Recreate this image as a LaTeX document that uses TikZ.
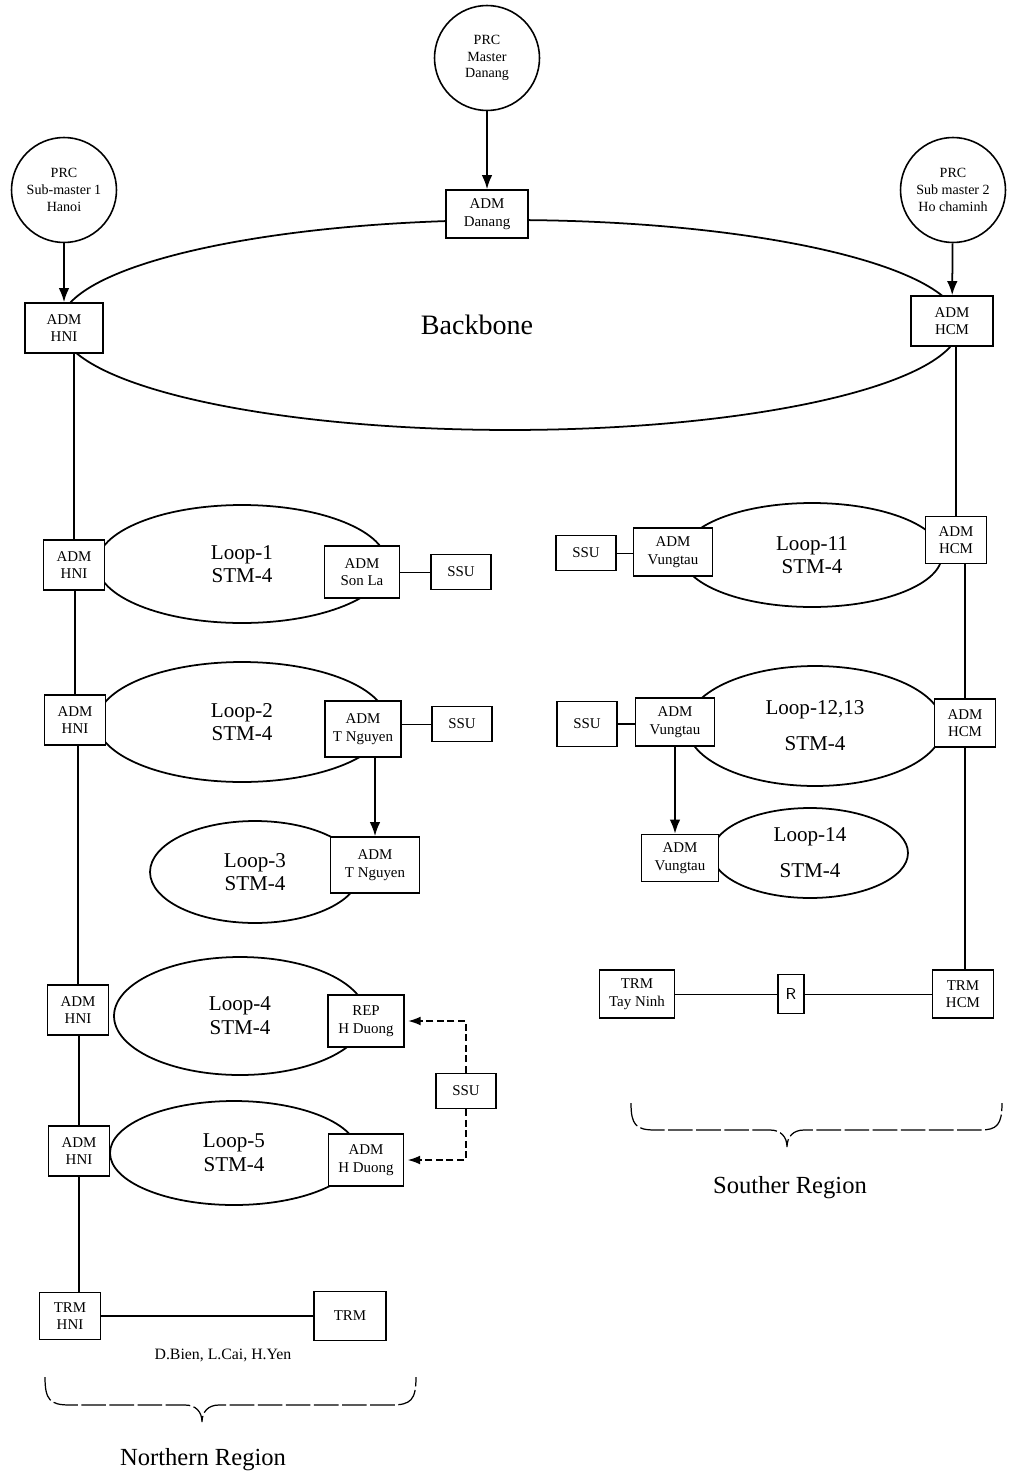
\documentclass[tikz,border=0pt]{standalone}
\usepackage{fontspec}
\setmainfont{Liberation Serif}
\usetikzlibrary{arrows.meta, shapes.geometric}

\begin{document}
\begin{tikzpicture}[
  x=0.02cm, y=-0.02cm, >={Latex[length=8pt,width=6pt]},
  box/.style={draw, fill=white, line width=0.9pt, align=center, inner sep=1pt,
    minimum width=1.55cm, minimum height=1cm, font=\fontsize{8.5}{10}\selectfont},
  nbox/.style={box, minimum width=1.22cm},
  ssu/.style={box, minimum width=1.2cm, minimum height=0.7cm},
  prc/.style={circle, draw, line width=0.9pt, minimum size=2.1cm, inner sep=0pt,
    align=center, font=\fontsize{8}{9.5}\selectfont},
  loop/.style={ellipse, draw, line width=1pt, align=center, inner sep=0pt,
    font=\fontsize{12}{13.5}\selectfont},
  line/.style={line width=1pt},
  arr/.style={->, line width=1pt},
  sync/.style={->, line width=0.7pt, dash pattern=on 4pt off 2pt, shorten >=2pt,
    >={Latex[length=7pt,width=5pt]}},
  brace/.style={line width=0.7pt, dash pattern=on 14pt off 2pt},
  region/.style={font=\fontsize{14}{16}\selectfont},
]
  \useasboundingbox (0,0) rectangle (1009,1477);

  % Rings
  \node[loop, minimum width=18cm, minimum height=4.2cm] (backbone) at (510,325) {};
  \node[font=\fontsize{16}{18}\selectfont] (bbLabel) at (477,325) {Backbone};
  \node[loop, minimum width=5.8cm, minimum height=2.36cm] (loop1) at (242,564) {Loop-1\\STM-4};
  \node[loop, minimum width=5.8cm, minimum height=2.4cm] (loop2) at (242,722) {Loop-2\\STM-4};
  \node[loop, minimum width=4.2cm, minimum height=2.04cm] (loop3) at (255,872) {Loop-3\\STM-4};
  \node[loop, minimum width=5.04cm, minimum height=2.36cm] (loop4) at (240,1016) {Loop-4\\STM-4};
  \node[loop, minimum width=4.96cm, minimum height=2.08cm] (loop5) at (234,1153) {Loop-5\\STM-4};
  \node[loop, minimum width=5.2cm, minimum height=2.08cm] (loop11) at (812,555) {Loop-11\\STM-4};
  \node[loop, minimum width=5.12cm, minimum height=2.4cm] (loop12) at (815,726) {Loop-12,13\\[7pt]STM-4};
  \node[loop, minimum width=3.92cm, minimum height=1.8cm] (loop14) at (810,853) {Loop-14\\[7pt]STM-4};

  % Clock masters
  \node[prc] (master) at (487,58) {PRC\\Master\\Danang};
  \node[prc] (sub1) at (64,190) {PRC\\Sub-master 1\\Hanoi};
  \node[prc] (sub2) at (953,190) {PRC\\Sub master 2\\Ho chaminh};

  % Backbone nodes
  \node[box, minimum width=1.64cm, minimum height=0.96cm] (adDanang) at (487,214) {ADM\\Danang};
  \node[box] (hniTop) at (64,328) {ADM\\HNI};
  \node[box, minimum width=1.64cm] (hcmTop) at (952,321) {ADM\\HCM};

  % Northern region
  \node[nbox] (hni1) at (74,565) {ADM\\HNI};
  \node[nbox] (hni2) at (75,720) {ADM\\HNI};
  \node[nbox] (hni4) at (78,1010) {ADM\\HNI};
  \node[nbox] (hni5) at (79,1151) {ADM\\HNI};
  \node[nbox, minimum height=0.94cm] (trmHni) at (70,1316) {TRM\\HNI};
  \node[box, minimum width=1.5cm, minimum height=1.04cm] (sonla) at (362,572) {ADM\\Son La};
  \node[ssu] (ssu1) at (461,572) {SSU};
  \node[box, minimum width=1.52cm, minimum height=1.12cm] (tng2) at (363,729) {ADM\\T Nguyen};
  \node[ssu] (ssu2) at (462,724) {SSU};
  \node[box, minimum width=1.78cm, minimum height=1.12cm] (tng3) at (375,865) {ADM\\T Nguyen};
  \node[box, minimum width=1.52cm, minimum height=1.04cm] (rep) at (366,1021) {REP\\H Duong};
  \node[box, minimum width=1.5cm, minimum height=1.04cm] (hd) at (366,1160) {ADM\\H Duong};
  \node[ssu] (ssu3) at (466,1091) {SSU};
  \node[box, minimum width=1.44cm, minimum height=0.98cm] (trmN) at (350,1316) {TRM};
  \node[font=\fontsize{9}{10}\selectfont] (trmNote) at (223,1355) {D.Bien, L.Cai, H.Yen};

  % Southern region
  \node[nbox, minimum height=0.94cm] (hcm11) at (956,540) {ADM\\HCM};
  \node[nbox, minimum height=0.96cm] (hcm12) at (965,723) {ADM\\HCM};
  \node[box, minimum width=1.58cm, minimum height=0.96cm] (vung11) at (673,552) {ADM\\Vungtau};
  \node[ssu] (ssu11) at (586,553) {SSU};
  \node[box, minimum width=1.58cm, minimum height=0.96cm] (vung12) at (675,722) {ADM\\Vungtau};
  \node[ssu, minimum height=0.9cm] (ssu12) at (587,724) {SSU};
  \node[box, minimum width=1.54cm, minimum height=0.94cm] (vung14) at (680,858) {ADM\\Vungtau};
  \node[box, minimum width=1.5cm, minimum height=0.96cm] (trmTay) at (637,994) {TRM\\Tay Ninh};
  \node[box, minimum width=0.52cm, minimum height=0.78cm, font=\sffamily\small] (rNode) at (791,994) {R};
  \node[nbox, minimum height=0.96cm] (trmHcm) at (963,994) {TRM\\HCM};

  % Clock feeds
  \draw[arr] (master) -- (adDanang);
  \draw[arr] (sub1) -- (hniTop);
  \draw[arr] (sub2) -- (hcmTop);

  % Northern trunk
  \draw[line] (hniTop.south -| hni1) -- (hni1.north);
  \draw[line] (hni1.south -| hni2) -- (hni2.north);
  \draw[line] (hni2.south -| hni4) -- (hni4.north);
  \draw[line] (hni4.south -| hni5) -- (hni5.north);
  \draw[line] (hni5.south) -- (hni5.south |- trmHni.north);
  \draw[line] (trmHni.east) -- (trmN.west);

  % Northern SSUs
  \draw (sonla.east) -- (ssu1.west);
  \draw (ssu2.west -| tng2.east) -- (ssu2.west);
  \draw[arr] (tng2.south -| tng3) -- (tng3.north);
  \draw[sync] (ssu3.north) |- (rep.east);
  \draw[sync] (ssu3.south) |- (hd.east);

  % Southern trunk
  \draw[line] (hcmTop.south -| hcm11) -- (hcm11.north);
  \draw[line] (hcm11.south -| hcm12) -- (hcm12.north);
  \draw[line] (hcm12.south) -- (hcm12.south |- trmHcm.north);
  \draw (trmTay.east) -- (rNode.west);
  \draw (rNode.east) -- (trmHcm.west);

  % Southern SSUs
  \draw (ssu11.east) -- (ssu11.east -| vung11.west);
  \draw[line] (ssu12.east) -- (ssu12.east -| vung12.west);
  \draw[arr] (vung12.south) -- (vung12.south |- vung14.north);

  % Region braces
  \draw[brace] (45,1377) .. controls (45,1400) and (50,1405) .. (70,1405) -- (185,1405)
    .. controls (196,1405) and (202,1412) .. (202,1422)
    .. controls (202,1412) and (208,1405) .. (219,1405) -- (391,1405)
    .. controls (411,1405) and (416,1400) .. (416,1377);
  \node[region] (northLabel) at (203,1460) {Northern Region};
  \draw[brace] (631,1103) .. controls (631,1125) and (636,1130) .. (655,1130) -- (770,1130)
    .. controls (781,1130) and (787,1137) .. (787,1147)
    .. controls (787,1137) and (793,1130) .. (804,1130) -- (980,1130)
    .. controls (997,1130) and (1002,1125) .. (1002,1103);
  \node[region] (southLabel) at (790,1188) {Souther Region};

\end{tikzpicture}
\end{document}
